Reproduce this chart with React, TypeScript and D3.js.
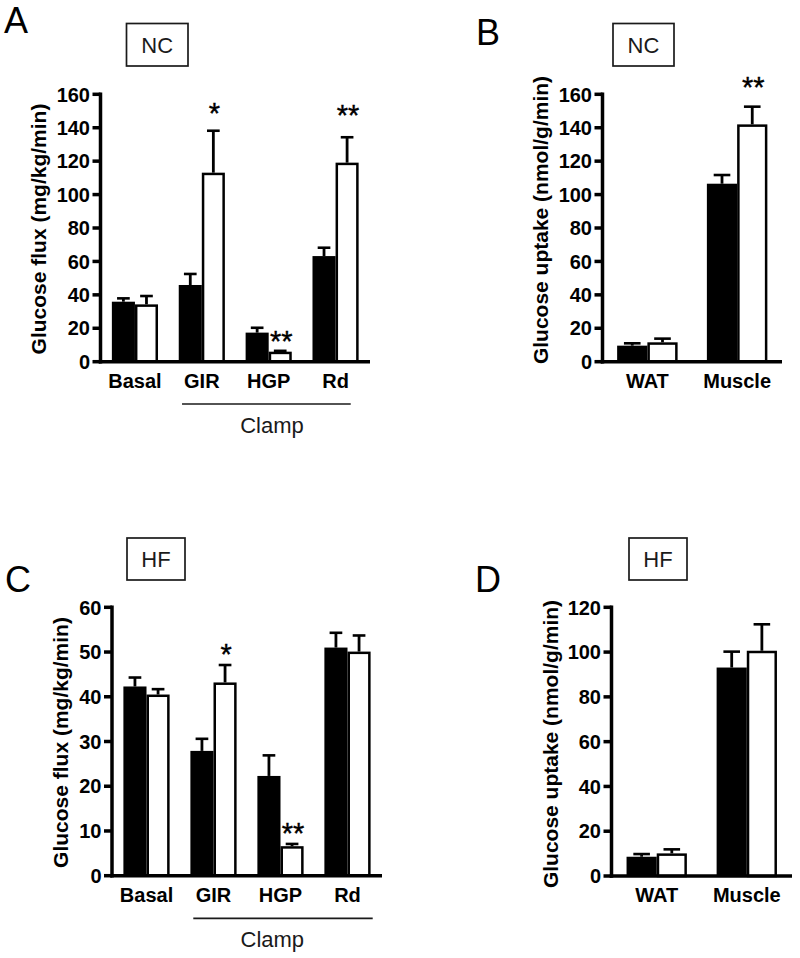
import React from 'react';
import * as d3 from 'd3';

const FONT = '"Liberation Sans", Arial, Helvetica, sans-serif';

// ---------- Data ----------
const fluxCategories = ['Basal', 'GIR', 'HGP', 'Rd'];
const uptakeCategories = ['WAT', 'Muscle'];

// Panel A: NC glucose flux (mg/kg/min)
const ncFluxBlack = [35.9, 45.9, 17.4, 63.2];
const ncFluxBlackErr = [2.0, 6.6, 2.9, 5.0];
const ncFluxWhite = [34.3, 113.1, 6.0, 119.1];
const ncFluxWhiteErr = [5.0, 25.1, 0.5, 15.2];
const ncFluxSig = [
  { cat: 'GIR', label: '*', level: 152.7 },
  { cat: 'HGP', label: '**', level: 16.6 },
  { cat: 'Rd', label: '**', level: 151.8 },
];

// Panel B: NC glucose uptake (nmol/g/min)
const ncUptakeBlack = [9.6, 106.5];
const ncUptakeBlackErr = [1.4, 5.2];
const ncUptakeWhite = [11.6, 142.0];
const ncUptakeWhiteErr = [2.2, 10.6];
const ncUptakeSig = [{ cat: 'Muscle', label: '**', level: 168.6 }];

// Panel C: HF glucose flux (mg/kg/min)
const hfFluxBlack = [42.3, 27.9, 22.3, 51.0];
const hfFluxBlackErr = [2.0, 2.7, 4.6, 3.3];
const hfFluxWhite = [40.5, 43.2, 6.6, 50.1];
const hfFluxWhiteErr = [1.2, 3.9, 0.5, 3.6];
const hfFluxSig = [
  { cat: 'GIR', label: '*', level: 51.0 },
  { cat: 'HGP', label: '**', level: 11.0 },
];

// Panel D: HF glucose uptake (nmol/g/min)
const hfUptakeBlack = [8.6, 93.1];
const hfUptakeBlackErr = [1.2, 7.1];
const hfUptakeWhite = [10.1, 100.6];
const hfUptakeWhiteErr = [1.8, 11.8];
const hfUptakeSig: { cat: string; label: string; level: number }[] = [];

const yMaxA = 160;
const yMaxB = 160;
const yMaxC = 60;
const yMaxD = 120;

const fluxLabel = 'Glucose flux (mg/kg/min)';
const uptakeLabel = 'Glucose uptake (nmol/g/min)';

// ---------- Panel ----------
type Sig = { cat: string; label: string; level: number };
type PanelProps = {
  letter: string;
  letterPos: [number, number];
  boxLabel: string;
  box: { x: number; y: number; w: number; h: number };
  cats: string[];
  black: number[];
  blackErr: number[];
  white: number[];
  whiteErr: number[];
  sig: Sig[];
  yMax: number;
  yTickCount: number;
  yLabel: string;
  axisX: number;
  xEnd: number;
  yTop: number;
  yBottom: number;
  padInner: number;
  padOuter: number;
  yLabelPos: [number, number];
  xLabelY: number;
  clamp?: { from: string; to: string; offs: [number, number]; y: number; textX: number; textY: number };
};

const STAR_FS = 29;

function Panel(p: PanelProps) {
  const x = d3
    .scaleBand<string>()
    .domain(p.cats)
    .range([p.axisX, p.xEnd])
    .paddingInner(p.padInner)
    .paddingOuter(p.padOuter);
  const sub = d3.scaleBand<string>().domain(['black', 'white']).range([0, x.bandwidth()]);
  const y = d3.scaleLinear().domain([0, p.yMax]).range([p.yBottom, p.yTop]);
  const ticks = y.ticks(p.yTickCount);
  const bw = sub.bandwidth();
  const capW = bw * 0.55;

  const series = [
    { key: 'black', vals: p.black, errs: p.blackErr },
    { key: 'white', vals: p.white, errs: p.whiteErr },
  ];

  return (
    <g>
      <text x={p.letterPos[0]} y={p.letterPos[1]} fontFamily={FONT} fontSize={36} fill="#000">
        {p.letter}
      </text>
      <rect
        x={p.box.x}
        y={p.box.y}
        width={p.box.w}
        height={p.box.h}
        fill="#fff"
        stroke="#1a1a1a"
        strokeWidth={1.7}
      />
      <text
        x={p.box.x + p.box.w / 2}
        y={p.box.y + p.box.h / 2 + 22 * 0.36}
        textAnchor="middle"
        fontFamily={FONT}
        fontSize={22}
        fill="#1a1a1a"
      >
        {p.boxLabel}
      </text>

      {/* bars */}
      {series.map((s) =>
        p.cats.map((c, i) => {
          const bx = (x(c) as number) + (sub(s.key) as number);
          const v = s.vals[i];
          const top = y(v);
          const errTop = y(v + s.errs[i]);
          const cx = bx + bw / 2;
          const isWhite = s.key === 'white';
          return (
            <g key={s.key + c}>
              <line x1={cx} x2={cx} y1={top} y2={errTop} stroke="#000" strokeWidth={2.8} />
              <line x1={cx - capW / 2} x2={cx + capW / 2} y1={errTop} y2={errTop} stroke="#000" strokeWidth={2.6} />
              <rect
                x={isWhite ? bx + 1.25 : bx}
                y={isWhite ? top + 1.25 : top}
                width={isWhite ? bw - 2.5 : bw}
                height={isWhite ? p.yBottom - top - 1.25 : p.yBottom - top}
                fill={isWhite ? '#fff' : '#000'}
                stroke="#000"
                strokeWidth={isWhite ? 2.5 : 0}
              />
            </g>
          );
        })
      )}

      {/* significance */}
      {p.sig.map((s) => {
        const cx = (x(s.cat) as number) + (sub('white') as number) + bw / 2 + 1;
        return (
          <text
            key={'sig' + s.cat}
            x={cx}
            y={y(s.level) + STAR_FS * 0.575}
            textAnchor="middle"
            fontFamily={FONT}
            fontSize={STAR_FS}
            fill="#000"
            stroke="#000"
            strokeWidth={0.4}
          >
            {s.label}
          </text>
        );
      })}

      {/* y axis */}
      <line x1={p.axisX} x2={p.axisX} y1={p.yTop - 1.75} y2={p.yBottom + 1.75} stroke="#000" strokeWidth={3.5} />
      {ticks.map((t) => (
        <g key={'t' + t}>
          <line x1={p.axisX - 8} x2={p.axisX} y1={y(t)} y2={y(t)} stroke="#000" strokeWidth={3.5} />
          <text
            x={p.axisX - 10.5}
            y={y(t) + 20 * 0.36}
            textAnchor="end"
            fontFamily={FONT}
            fontWeight="bold"
            fontSize={20}
            fill="#000"
          >
            {t}
          </text>
        </g>
      ))}
      {/* x axis */}
      <line x1={p.axisX - 1.75} x2={p.xEnd} y1={p.yBottom} y2={p.yBottom} stroke="#000" strokeWidth={3.5} />
      {p.cats.map((c) => (
        <text
          key={'xl' + c}
          x={(x(c) as number) + x.bandwidth() / 2}
          y={p.xLabelY}
          textAnchor="middle"
          fontFamily={FONT}
          fontWeight="bold"
          fontSize={20}
          fill="#000"
        >
          {c}
        </text>
      ))}
      {/* y label */}
      <text
        transform={`translate(${p.yLabelPos[0]},${p.yLabelPos[1]}) rotate(-90)`}
        textAnchor="middle"
        fontFamily={FONT}
        fontWeight="bold"
        fontSize={21}
        fill="#000"
      >
        {p.yLabel}
      </text>

      {p.clamp && (
        <g>
          <line
            x1={(x(p.clamp.from) as number) + p.clamp.offs[0]}
            x2={(x(p.clamp.to) as number) + x.bandwidth() + p.clamp.offs[1]}
            y1={p.clamp.y}
            y2={p.clamp.y}
            stroke="#1a1a1a"
            strokeWidth={1.7}
          />
          <text
            x={p.clamp.textX}
            y={p.clamp.textY}
            textAnchor="middle"
            fontFamily={FONT}
            fontSize={22}
            fill="#1a1a1a"
          >
            Clamp
          </text>
        </g>
      )}
    </g>
  );
}

export default function App() {
  return (
    <svg
      width={800}
      height={958}
      viewBox="0 0 800 958"
      style={{ position: 'absolute', left: 0, top: 0, display: 'block', background: '#fff' }}
    >
      <rect x={0} y={0} width={800} height={958} fill="#fff" />
      <Panel
        letter="A"
        letterPos={[4, 33]}
        boxLabel="NC"
        box={{ x: 126.5, y: 23.5, w: 61.5, h: 42.5 }}
        cats={fluxCategories}
        black={ncFluxBlack}
        blackErr={ncFluxBlackErr}
        white={ncFluxWhite}
        whiteErr={ncFluxWhiteErr}
        sig={ncFluxSig}
        yMax={yMaxA}
        yTickCount={8}
        yLabel={fluxLabel}
        axisX={100.5}
        xEnd={370}
        yTop={94.3}
        yBottom={361.7}
        padInner={0.31}
        padOuter={0.17}
        yLabelPos={[46, 229]}
        xLabelY={388}
        clamp={{ from: 'GIR', to: 'Rd', offs: [3.3, -7.9], y: 404, textX: 272, textY: 433 }}
      />
      <Panel
        letter="B"
        letterPos={[476, 45]}
        boxLabel="NC"
        box={{ x: 613, y: 23.5, w: 61, h: 42.5 }}
        cats={uptakeCategories}
        black={ncUptakeBlack}
        blackErr={ncUptakeBlackErr}
        white={ncUptakeWhite}
        whiteErr={ncUptakeWhiteErr}
        sig={ncUptakeSig}
        yMax={yMaxB}
        yTickCount={8}
        yLabel={uptakeLabel}
        axisX={602.5}
        xEnd={782}
        yTop={94.3}
        yBottom={361.7}
        padInner={0.326}
        padOuter={0.163}
        yLabelPos={[548, 220]}
        xLabelY={388}
      />
      <Panel
        letter="C"
        letterPos={[5, 592]}
        boxLabel="HF"
        box={{ x: 127, y: 538, w: 58, h: 42 }}
        cats={fluxCategories}
        black={hfFluxBlack}
        blackErr={hfFluxBlackErr}
        white={hfFluxWhite}
        whiteErr={hfFluxWhiteErr}
        sig={hfFluxSig}
        yMax={yMaxC}
        yTickCount={6}
        yLabel={fluxLabel}
        axisX={112}
        xEnd={382}
        yTop={607.3}
        yBottom={875.7}
        padInner={0.31}
        padOuter={0.17}
        yLabelPos={[68, 742.5]}
        xLabelY={901.7}
        clamp={{ from: 'GIR', to: 'Rd', offs: [2.9, 2.1], y: 918.3, textX: 272.3, textY: 946.7 }}
      />
      <Panel
        letter="D"
        letterPos={[475, 592]}
        boxLabel="HF"
        box={{ x: 629, y: 538, w: 58, h: 42 }}
        cats={uptakeCategories}
        black={hfUptakeBlack}
        blackErr={hfUptakeBlackErr}
        white={hfUptakeWhite}
        whiteErr={hfUptakeWhiteErr}
        sig={hfUptakeSig}
        yMax={yMaxD}
        yTickCount={6}
        yLabel={uptakeLabel}
        axisX={611.5}
        xEnd={792}
        yTop={607.3}
        yBottom={876}
        padInner={0.33}
        padOuter={0.167}
        yLabelPos={[558, 744]}
        xLabelY={901.7}
      />
    </svg>
  );
}
